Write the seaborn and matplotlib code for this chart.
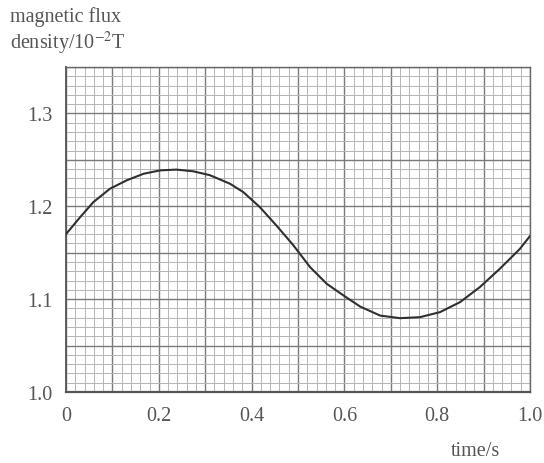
import numpy as np
import pandas as pd
import matplotlib
matplotlib.use("Agg")
import matplotlib.pyplot as plt
import seaborn as sns

time_s = [0.000, 0.030, 0.059, 0.095, 0.131, 0.167, 0.203, 0.238, 0.274, 0.310,
          0.353, 0.382, 0.418, 0.454, 0.490, 0.526, 0.562, 0.598, 0.634, 0.677,
          0.720, 0.763, 0.806, 0.849, 0.892, 0.935, 0.978, 1.000]
flux = [1.170, 1.188, 1.2045, 1.219, 1.228, 1.235, 1.2387, 1.2395, 1.2377, 1.2335,
        1.2244, 1.2153, 1.199, 1.179, 1.158, 1.1345, 1.1165, 1.104, 1.092, 1.0823,
        1.0795, 1.0806, 1.086, 1.0967, 1.113, 1.1327, 1.154, 1.168]
x_ticks = [0, 0.2, 0.4, 0.6, 0.8, 1.0]
x_tick_labels = ["0", "0.2", "0.4", "0.6", "0.8", "1.0"]
y_ticks = [1.0, 1.1, 1.2, 1.3]
y_tick_labels = ["1.0", "1.1", "1.2", "1.3"]

df = pd.DataFrame({"time": time_s, "flux": flux})

sns.set_style("white")
plt.rcParams["font.family"] = ["Liberation Serif", "DejaVu Serif"]
plt.rcParams["mathtext.fontset"] = "stix"

fig = plt.figure(figsize=(5.44, 4.64), dpi=100)
ax = fig.add_axes([66/544, 1 - 393/464, (530-66)/544, (393-68)/464])

# graph paper grid
for xv in np.arange(0, 1.0001, 0.02):
    major = abs(round(xv / 0.1) * 0.1 - xv) < 1e-6
    ax.axvline(xv, color="#7a7a7a" if major else "#b4b4b4",
               lw=1.0 if major else 0.7, zorder=0)
for yv in np.arange(1.0, 1.3501, 0.01):
    major = abs(round(yv / 0.05) * 0.05 - yv) < 1e-6
    ax.axhline(yv, color="#7a7a7a" if major else "#b4b4b4",
               lw=1.0 if major else 0.7, zorder=0)

sns.lineplot(data=df, x="time", y="flux", ax=ax, color="#2f2f2f", lw=1.5, zorder=3,
             solid_joinstyle="round", solid_capstyle="round")

ax.set_xlim(0, 1.0)
ax.set_ylim(1.0, 1.35)
ax.set_xticks(x_ticks)
ax.set_xticklabels(x_tick_labels)
ax.set_yticks(y_ticks)
ax.set_yticklabels(y_tick_labels)
ax.tick_params(axis="both", direction="out", length=6, width=1, color="#555555",
               labelsize=14.5, labelcolor="#555555", pad=4)
ax.set_xlabel("")
ax.set_ylabel("")
for s in ax.spines.values():
    s.set_color("#666666")
    s.set_linewidth(1.0)
ax.spines["bottom"].set_linewidth(1.6)
ax.spines["bottom"].set_color("#555555")
ax.spines["left"].set_linewidth(1.3)
ax.spines["left"].set_color("#555555")

fig.text(10/544, 1 - 17/464, "magnetic flux", fontsize=14.5, color="#555555", va="center")
fig.text(10/544, 1 - 43/464, r"density/10$^{-2}$T", fontsize=14.5, color="#555555", va="center")
fig.text(500/544, 1 - 452/464, "time/s", fontsize=14.5, color="#555555", va="center", ha="right")

fig.savefig("out.png", dpi=100)
